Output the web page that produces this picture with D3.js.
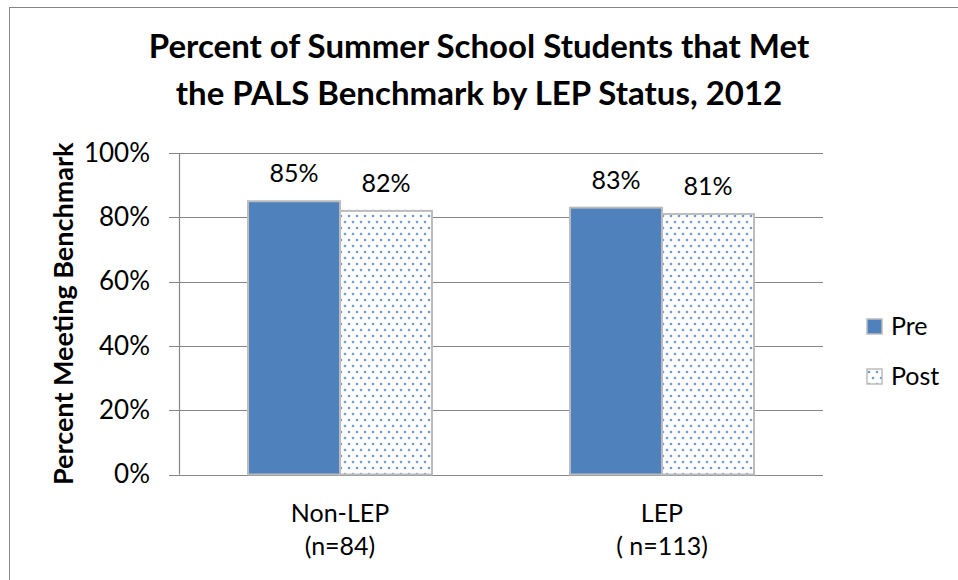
<!DOCTYPE html>
<html>
<head>
<meta charset="utf-8">
<script src="https://cdn.jsdelivr.net/npm/d3@7"></script>
<style>
  html, body { margin: 0; padding: 0; background: #fff; }
  svg { display: block; font-family: Lato, "Open Sans", sans-serif; }
</style>
</head>
<body>
<div id="chart"></div>
<script>
// данные
const categories = ["Non-LEP", "LEP"];
const categorySub = ["(n=84)", "( n=113)"];
const series = ["Pre", "Post"];
const preValues = [0.85, 0.83];
const postValues = [0.82, 0.81];
const yTicks = [0, 0.2, 0.4, 0.6, 0.8, 1.0];

const W = 958, H = 580;
const margin = { top: 153, left: 179, right: 135, bottom: 105.5 };
const width = W - margin.left - margin.right;
const height = H - margin.top - margin.bottom;
const fs = 25;

const rows = categories.map((c, i) => ({ cat: c, sub: categorySub[i], Pre: preValues[i], Post: postValues[i] }));

const svg = d3.select("#chart").append("svg")
    .attr("width", W)
    .attr("height", H);

// узор для Post
const pat = svg.append("defs").append("pattern")
    .attr("id", "dots")
    .attr("patternUnits", "userSpaceOnUse")
    .attr("width", 8)
    .attr("height", 12);
pat.append("rect").attr("width", 8).attr("height", 12).attr("fill", "#fff");
pat.append("circle").attr("cx", 2).attr("cy", 3).attr("r", 1.3).attr("fill", "#6f9ad3");
pat.append("circle").attr("cx", 6).attr("cy", 9).attr("r", 1.3).attr("fill", "#6f9ad3");

// рамка
svg.append("rect")
    .attr("x", 9.5).attr("y", 7.5)
    .attr("width", W).attr("height", H)
    .attr("fill", "none")
    .attr("stroke", "#868686")
    .attr("stroke-width", 1);

// заголовок
const title = svg.append("text")
    .attr("text-anchor", "middle")
    .attr("font-weight", "bold")
    .attr("font-size", 33)
    .attr("fill", "#000");
title.append("tspan").attr("x", 479).attr("y", 58).text("Percent of Summer School Students that Met");
title.append("tspan").attr("x", 479).attr("y", 105).text("the PALS Benchmark by LEP Status, 2012");

const g = svg.append("g")
    .attr("transform", `translate(${margin.left},${margin.top})`);

const x0 = d3.scaleBand().domain(categories).range([0, width]).padding(0);
const x1 = d3.scaleBand().domain(series).range([0, x0.bandwidth()])
    .paddingInner(0).paddingOuter(0.75);
const y = d3.scaleLinear().domain([0, 1]).range([height, 0]);

// сетка
g.append("g").selectAll("line")
    .data(yTicks)
    .enter().append("line")
    .attr("x1", -10).attr("x2", width)
    .attr("y1", d => Math.round(y(d)) + 0.5)
    .attr("y2", d => Math.round(y(d)) + 0.5)
    .attr("stroke", "#868686")
    .attr("stroke-width", 1.2);

// ось Y
const yAxis = g.append("g")
    .call(d3.axisLeft(y).tickValues(yTicks).tickSize(10).tickPadding(19)
        .tickFormat(d3.format(".0%")));
yAxis.select(".domain").attr("stroke", "#868686").attr("stroke-width", 1.2).attr("d", `M0.5,${height}V0`);
yAxis.selectAll(".tick line").remove();
yAxis.selectAll(".tick text")
    .attr("font-size", 26)
    .attr("font-family", "Lato, sans-serif")
    .attr("fill", "#000");

svg.append("text")
    .attr("transform", `translate(73,${margin.top + height / 2}) rotate(-90)`)
    .attr("text-anchor", "middle")
    .attr("font-weight", "bold")
    .attr("font-size", 27)
    .text("Percent Meeting Benchmark");

// столбцы
const groups = g.selectAll(".grp")
    .data(rows)
    .enter().append("g")
    .attr("class", "grp")
    .attr("transform", d => `translate(${x0(d.cat)},0)`);

groups.selectAll("rect")
    .data(d => series.map(s => ({ key: s, value: d[s] })))
    .enter().append("rect")
    .attr("x", d => x1(d.key))
    .attr("y", d => y(d.value))
    .attr("width", x1.bandwidth())
    .attr("height", d => height - y(d.value))
    .attr("fill", d => d.key === "Pre" ? "#4f81bd" : "url(#dots)")
    .attr("stroke", "#bcbcbc")
    .attr("stroke-width", 2);

groups.selectAll(".lbl")
    .data(d => series.map(s => ({ key: s, value: d[s] })))
    .enter().append("text")
    .attr("class", "lbl")
    .attr("x", d => x1(d.key) + x1.bandwidth() / 2)
    .attr("y", d => y(d.value) - 19)
    .attr("text-anchor", "middle")
    .attr("font-size", fs)
    .text(d => d3.format(".0%")(d.value));

// подписи категорий
const catLbl = groups.append("text")
    .attr("text-anchor", "middle")
    .attr("font-size", fs);
catLbl.append("tspan")
    .attr("x", x0.bandwidth() / 2)
    .attr("y", 522 - margin.top)
    .text(d => d.cat);
catLbl.append("tspan")
    .attr("x", x0.bandwidth() / 2)
    .attr("y", 555 - margin.top)
    .text(d => d.sub);

// легенда
const legend = svg.append("g")
    .attr("transform", "translate(867,319)");
const li = legend.selectAll("g")
    .data(series)
    .enter().append("g")
    .attr("transform", (d, i) => `translate(0,${i * 50})`);
li.append("rect")
    .attr("width", 15).attr("height", 15)
    .attr("fill", d => d === "Pre" ? "#4f81bd" : "url(#dots)")
    .attr("stroke", "#bcbcbc")
    .attr("stroke-width", 1.5);
li.append("text")
    .attr("x", 24)
    .attr("y", 16)
    .attr("font-size", fs)
    .text(d => d);
</script>
</body>
</html>
